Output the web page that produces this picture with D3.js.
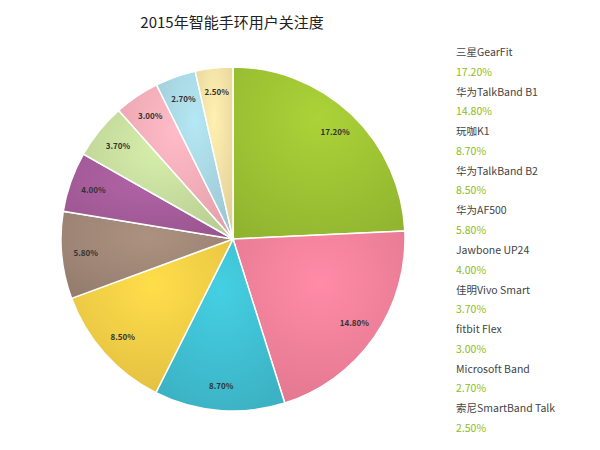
<!DOCTYPE html><html><head><meta charset="utf-8"><script src="https://cdn.jsdelivr.net/npm/d3@7"></script>
<style>body{margin:0;background:#fff}</style></head><body><svg id="c" width="600" height="450"></svg>
<script>
const categories=["三星GearFit","华为TalkBand B1","玩咖K1","华为TalkBand B2","华为AF500","Jawbone UP24","佳明Vivo Smart","fitbit Flex","Microsoft Band","索尼SmartBand Talk"];
const values=[17.2,14.8,8.7,8.5,5.8,4.0,3.7,3.0,2.7,2.5];
const colors=["#9cc133","#f27f99","#3fbdd0","#f1cb45","#9e8575","#a35b98","#c4da9c","#f4abb6","#a5d4df","#f2dca2"];
const svg=d3.select("#c");
const font="'Noto Sans CJK SC','Noto Sans',sans-serif";
svg.append("text").attr("x",232).attr("y",28).attr("text-anchor","middle").attr("font-family",font).attr("font-size",15).attr("fill","#222").text("2015年智能手环用户关注度");
const defs=svg.append("defs");
colors.forEach((c,i)=>{const g=defs.append("radialGradient").attr("id","g"+i).attr("cx","50%").attr("cy","30%").attr("r","80%");
g.append("stop").attr("offset","0%").attr("stop-color",d3.color(c).brighter(0.25));
g.append("stop").attr("offset","100%").attr("stop-color",d3.color(c).darker(0.2));});
const cx=233,cy=239,r=172;
const pie=d3.pie().sort(null).value(d=>d)(values);
const arc=d3.arc().innerRadius(0).outerRadius(r);
const la=d3.arc().innerRadius(r*0.86).outerRadius(r*0.86);
const g=svg.append("g").attr("transform",`translate(${cx},${cy})`);
g.selectAll("path").data(pie).join("path").attr("d",arc).attr("fill",(d,i)=>`url(#g${i})`).attr("stroke","#fff").attr("stroke-width",1.5);
g.selectAll("text").data(pie).join("text").attr("transform",d=>`translate(${la.centroid(d)})`).attr("text-anchor","middle").attr("dy","0.35em")
 .attr("font-family",font).attr("font-size",8).attr("font-weight","bold").attr("fill","#333").text(d=>d.value.toFixed(2)+"%");
const lg=svg.append("g").attr("font-family",font).attr("font-size",10.5);
categories.forEach((c,i)=>{const y=56+i*39.6;
lg.append("text").attr("x",456).attr("y",y).attr("fill","#444").text(c);
lg.append("text").attr("x",456).attr("y",y+19.5).attr("fill","#8dbb22").text(values[i].toFixed(2)+"%");});
</script></body></html>
